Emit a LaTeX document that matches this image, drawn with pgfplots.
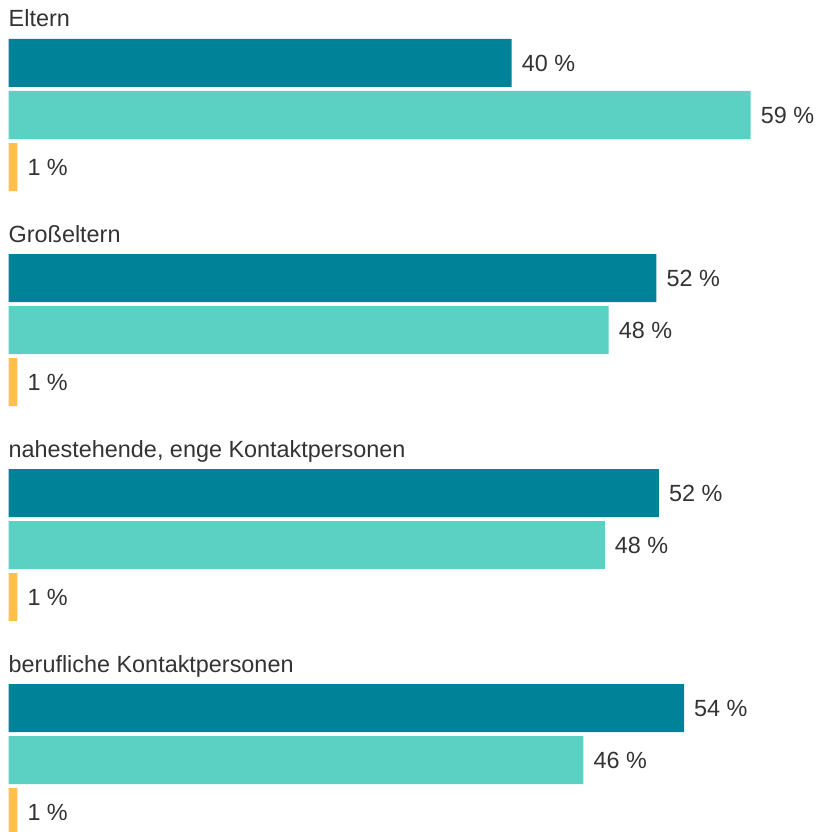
\documentclass[border=0pt]{standalone}
\usepackage{pgfplots}
\pgfplotsset{compat=1.18}
\usepackage{fontspec}
\setmainfont{Liberation Sans}

\definecolor{dunkel}{HTML}{008299}
\definecolor{hell}{HTML}{5BD1C4}
\definecolor{orange}{HTML}{FFC04D}
\definecolor{schrift}{HTML}{333333}

\begin{document}
\begin{tikzpicture}
\begin{axis}[
	width=818pt, height=832pt,
	scale only axis,
	xmin=-0.6757, xmax=64.35,
	ymin=0, ymax=832,
	y dir=reverse,
	hide axis,
	xbar,
	bar width=48,
	bar shift=0pt,
	point meta=explicit symbolic,
	nodes near coords,
	every node near coord/.append style={anchor=west, inner sep=0pt, xshift=10pt,
		text=schrift, font=\fontsize{23.4}{28}\selectfont},
	]
	% Reihenfolge: Eltern, Großeltern, nahestehende, berufliche
	\addplot[draw=none, fill=dunkel] coordinates {
		(40.0,63) [40 \%]
		(51.5,278) [52 \%]
		(51.7,493) [52 \%]
		(53.7,708) [54 \%]
	};
	\addplot[draw=none, fill=hell] coordinates {
		(59.0,115) [59 \%]
		(47.7,330) [48 \%]
		(47.4,545) [48 \%]
		(45.7,760) [46 \%]
	};
	\addplot[draw=none, fill=orange] coordinates {
		(0.7,167) [1 \%]
		(0.7,382) [1 \%]
		(0.7,597) [1 \%]
		(0.7,812) [1 \%]
	};
	\begin{scope}[every node/.style={anchor=base west, inner sep=0pt, text=schrift,
		font=\fontsize{23.4}{28}\selectfont}]
	\node at (axis cs:0,27) {Eltern};
	\node at (axis cs:0,242) {Großeltern};
	\node at (axis cs:0,457) {nahestehende, enge Kontaktpersonen};
	\node at (axis cs:0,672) {berufliche Kontaktpersonen};
	\end{scope}
\end{axis}
\pgfresetboundingbox
\useasboundingbox (current axis.south west) rectangle (current axis.north east);
\end{tikzpicture}
\end{document}
